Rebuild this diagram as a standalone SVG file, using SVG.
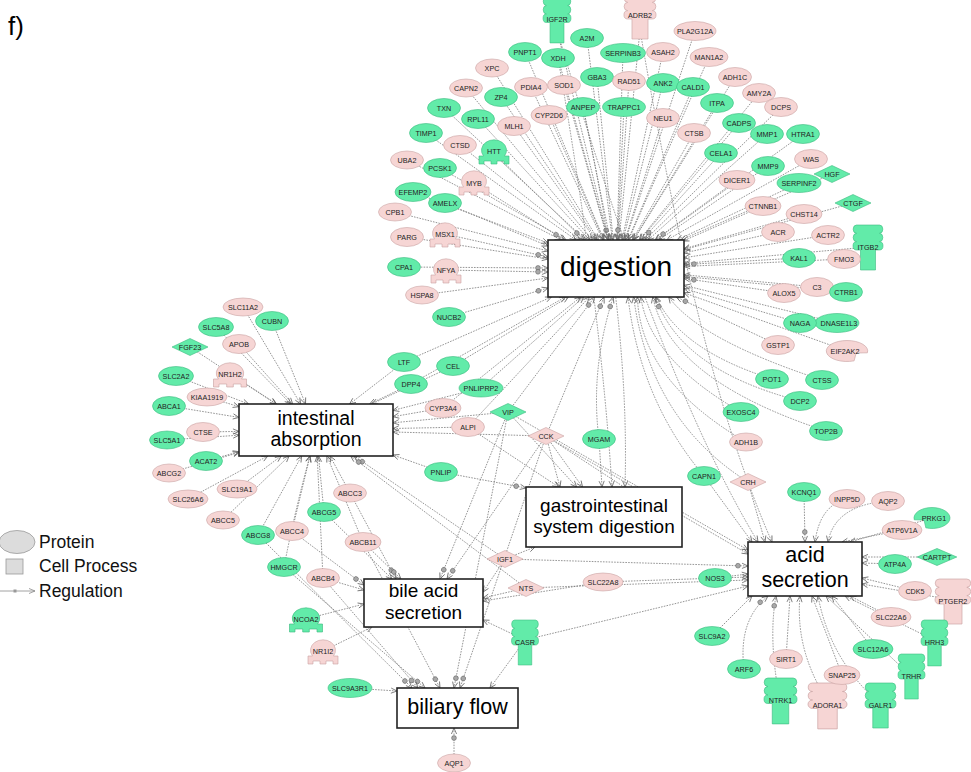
<svg xmlns="http://www.w3.org/2000/svg" xmlns:xlink="http://www.w3.org/1999/xlink" width="971" height="772" viewBox="0 0 971 772">
<style>
.e{fill:none;stroke:#7a7a7a;stroke-width:0.8;stroke-dasharray:1.6 1.2}
.a{marker-end:url(#ma)}
.c{marker-end:url(#mc)}
.g{fill:#62eba9;stroke:#3dbb80;stroke-width:0.6}
.p{fill:#f6d5d4;stroke:#c9a3a3;stroke-width:0.6}
.t{font-family:"Liberation Sans",Arial,sans-serif;font-size:7.2px;fill:#222;text-anchor:middle}
.box{fill:#fff;stroke:#222;stroke-width:1.6}
.bt{font-family:"Liberation Sans",Arial,sans-serif;fill:#000;text-anchor:middle}
.lg{font-family:"Liberation Sans",Arial,sans-serif;font-size:17.5px;fill:#111}
</style>
<defs>
<marker id="ma" markerUnits="userSpaceOnUse" markerWidth="14" markerHeight="8" refX="0" refY="0" orient="auto" overflow="visible">
<path d="M-6,-2.6 L0,0 L-6,2.6" fill="none" stroke="#666" stroke-width="0.8"/>
</marker>
<marker id="mc" markerUnits="userSpaceOnUse" markerWidth="14" markerHeight="8" refX="0" refY="0" orient="auto" overflow="visible">
<circle cx="-10" cy="0" r="2.4" fill="#a8a8a8" stroke="#555" stroke-width="0.5"/>
<path d="M-6,-2.6 L0,0 L-6,2.6" fill="none" stroke="#666" stroke-width="0.8"/>
</marker>
<path id="rec" d="M-11.5,0 H11.5 a3.5,4.17 0 0 1 0,8.33 a3.5,4.17 0 0 1 0,8.33 a3.5,4.17 0 0 1 0,8.34 H7.5 V45 H-7.5 V25 H-11.5 a3.5,4.17 0 0 1 0,-8.34 a3.5,4.17 0 0 1 0,-8.33 a3.5,4.17 0 0 1 0,-8.33 Z"/>
<path id="tr" d="M-15,13 V5 H-10.5 A12.5,10.5 0 1 1 10.5,5 H15 V13 H10 V10 H3 V13 H-3 V10 H-10 V13 Z"/>
<path id="dia" d="M-18,0 L0,-8.5 L18,0 L0,8.5 Z"/>
<path id="kin" d="M-17.73,1.82 A18,10.5 0 1 1 -6.16,9.87 L-8,2 Z"/>
</defs>
<rect x="0" y="0" width="971" height="772" fill="#fff"/>

<g id="connectors" class="e">
<!-- to digestion -->
<path class="c" d="M557,30 L608.5,240"/>
<path class="a" d="M640,30 L619,240"/>
<path class="a" d="M587,38 L612.4,240"/>
<path class="a" d="M525,52 L604,240"/>
<path class="a" d="M558,58 L608.1,240"/>
<path class="a" d="M492,68 L598.4,240"/>
<path class="a" d="M597,77 L613.2,240"/>
<path class="a" d="M466,88 L592.3,240"/>
<path class="a" d="M531,87 L602.7,240"/>
<path class="a" d="M564,85 L607.9,240"/>
<path class="a" d="M501,97 L596.9,240"/>
<path class="a" d="M583,107 L610.2,240"/>
<path class="a" d="M444,108 L585.5,240"/>
<path class="a" d="M478,119 L589.7,240"/>
<path class="a" d="M549,115 L603.6,240"/>
<path class="a" d="M514,126 L595.6,240"/>
<path class="a" d="M426,133 L576,240"/>
<path class="a" d="M460,145 L580,240"/>
<path class="c" d="M494,153 L584,240"/>
<path class="a" d="M407,160 L561.1,240"/>
<path class="a" d="M440,168 L566.1,240"/>
<path class="c" d="M474,183 L564.5,240"/>
<path class="a" d="M413,192 L548,243"/>
<path class="a" d="M445,203 L548,246"/>
<path class="a" d="M395,212 L548,251"/>
<path class="c" d="M445,234 L548,257"/>
<path class="a" d="M407,237 L548,259"/>
<path class="c" d="M404,267 L548,268"/>
<path class="c" d="M446,270 L548,272"/>
<path class="a" d="M422,295 L548,278"/>
<path class="c" d="M449,317 L548,288"/>
<path class="a" d="M623,53 L617,240"/>
<path class="a" d="M663,52 L622,240"/>
<path class="a" d="M695,31 L625.5,240"/>
<path class="a" d="M709,57 L628.5,240"/>
<path class="a" d="M629,81 L618,240"/>
<path class="a" d="M663,83 L623,240"/>
<path class="a" d="M693,87 L628,240"/>
<path class="a" d="M735,77 L633.7,240"/>
<path class="a" d="M759,93 L639.2,240"/>
<path class="c" d="M624,107 L617.4,240"/>
<path class="a" d="M717,103 L633.4,240"/>
<path class="a" d="M781,107 L645,240"/>
<path class="a" d="M663,118 L625,240"/>
<path class="a" d="M739,123 L640,240"/>
<path class="a" d="M694,133 L632.4,240"/>
<path class="a" d="M767,134 L648,240"/>
<path class="a" d="M803,134 L655.6,240"/>
<path class="c" d="M721,153 L642,240"/>
<path class="a" d="M811,159 L666.8,240"/>
<path class="a" d="M768,166 L658.7,240"/>
<path class="c" d="M737,180 L655,240"/>
<path class="a" d="M799,183 L677,240"/>
<path class="a" d="M832,174 L681,240"/>
<path class="a" d="M763,206 L683,241"/>
<path class="a" d="M804,214 L684,248.8"/>
<path class="a" d="M853,203 L684,249.7"/>
<path class="a" d="M778,232 L684,253"/>
<path class="a" d="M828,235 L684,257.8"/>
<path class="a" d="M868,247 L684,263.5"/>
<path class="c" d="M799,258 L684,264.6"/>
<path class="a" d="M844,259 L684,266.5"/>
<path class="c" d="M784,293 L684,278.4"/>
<path class="a" d="M817,287 L684,274.8"/>
<path class="a" d="M846,292 L684,276.5"/>
<path class="a" d="M800,323 L684,288.6"/>
<path class="a" d="M837,323 L684,285.3"/>
<path class="c" d="M778,345 L676.3,297"/>
<path class="a" d="M847,351 L684,292.8"/>
<path class="a" d="M772,379 Q680,350 656.2,297"/>
<path class="a" d="M822,380 Q700,340 668.7,297"/>
<path class="c" d="M800,401 Q680,370 655.6,297"/>
<path class="a" d="M741,412 Q650,360 640.8,297"/>
<path class="a" d="M826,431 Q670,380 652.8,297"/>
<path class="a" d="M746,442 Q640,380 637.4,297"/>
<path class="a" d="M404,362 L551.4,297"/>
<path class="a" d="M453,366 L568.4,297"/>
<path class="a" d="M411,384 L565.4,297"/>
<path class="a" d="M481,388 L583.8,297"/>
<path class="a" d="M443,408 L580.7,297"/>
<path class="c" d="M508,412 L594.6,297"/>
<path class="a" d="M468,427 L589.4,297"/>
<path class="c" d="M546,436 L604.1,297"/>
<path class="c" d="M599,439 Q590,370 613.2,297"/>
<path class="a" d="M704,476 Q640,400 628,297"/>
<path class="a" d="M748,482 Q650,420 633.6,297"/>
<!-- to intestinal absorption -->
<path class="a" d="M243,307 L300.6,404"/>
<path class="a" d="M272,321 L305.5,404"/>
<path class="a" d="M216,327 L290.8,404"/>
<path class="a" d="M239,344 L292.7,404"/>
<path class="a" d="M230,374 L276.1,404"/>
<path class="a" d="M190,347 L276.5,404"/>
<path class="a" d="M176,376 L248.6,404"/>
<path class="a" d="M207,397 L239,406.7"/>
<path class="a" d="M169,406 L239,417.4"/>
<path class="a" d="M203,432 L239,431.4"/>
<path class="a" d="M167,440 L239,435.2"/>
<path class="a" d="M206,461 L239,451.7"/>
<path class="a" d="M169,473 L239,452.5"/>
<path class="a" d="M237,489 L281.2,456"/>
<path class="a" d="M188,499 L267.8,456"/>
<path class="a" d="M223,520 L289.1,456"/>
<path class="a" d="M258,535 L301.6,456"/>
<path class="a" d="M292,531 L310,456"/>
<path class="a" d="M284,567 Q295,510 309.9,456"/>
<path class="a" d="M323,578 L317.2,456"/>
<path class="a" d="M324,512 L318.5,456"/>
<path class="a" d="M350,493 L330,456"/>
<path class="a" d="M363,542 L326.9,456"/>
<path class="a" d="M404,362 L349.6,404"/>
<path class="a" d="M453,366 L371.7,404"/>
<path class="a" d="M411,384 L369.7,404"/>
<path class="a" d="M481,388 L393,410.4"/>
<path class="a" d="M443,408 L393,416.7"/>
<path class="a" d="M508,412 L393,422.8"/>
<path class="a" d="M468,427 L393,428.5"/>
<path class="a" d="M546,436 L393,432"/>
<path class="a" d="M441,472 L393,455"/>
<path class="c" d="M505,559 L354,456"/>
<path class="c" d="M526,588 L350.6,456"/>
<!-- to GI system digestion -->
<path class="a" d="M546,436 L582.5,487"/>
<path class="a" d="M546,436 L560,487"/>
<path class="a" d="M508,412 L576.6,487"/>
<path class="a" d="M599,439 L602,487"/>
<path class="a" d="M468,427 L558.7,487"/>
<path class="c" d="M441,472 L526,488"/>
<path class="a" d="M505,559 L535,547"/>
<path class="a" d="M558,58 Q600,300 612,487"/>
<path class="a" d="M583,107 Q630,320 625,487"/>
<path class="e" d="M546,436 L624,487"/>
<!-- to acid secretion -->
<path class="c" d="M804,492 L805,542"/>
<path class="a" d="M847,499 Q820,505 815,542"/>
<path class="a" d="M888,501 Q835,505 828,542"/>
<path class="a" d="M902,530 L842,542"/>
<path class="a" d="M932,518 L850,542"/>
<path class="a" d="M937,557 L862,557"/>
<path class="a" d="M895,564 L862,563"/>
<path class="a" d="M915,591 L862,578"/>
<path class="a" d="M953,600 L862,584"/>
<path class="a" d="M891,617 L850,596"/>
<path class="a" d="M934,640 L845,596"/>
<path class="a" d="M873,649 L832,596"/>
<path class="a" d="M911,676 L826,596"/>
<path class="a" d="M880,704 Q830,660 818,596"/>
<path class="a" d="M842,675 L812,596"/>
<path class="a" d="M827,700 Q795,650 800,596"/>
<path class="a" d="M786,659 L790,596"/>
<path class="c" d="M780,700 Q768,640 776,596"/>
<path class="c" d="M744,669 Q738,620 768,596"/>
<path class="a" d="M712,636 L752,596"/>
<path class="a" d="M715,578 L748,574"/>
<path class="a" d="M603,582 L748,577"/>
<path class="a" d="M526,588 L748,580"/>
<path class="c" d="M505,559 L748,566"/>
<path class="a" d="M525,640 L748,586"/>
<path class="a" d="M546,436 L748,554"/>
<path class="a" d="M508,412 L748,550"/>
<path class="a" d="M704,476 L752,542"/>
<path class="a" d="M748,482 L765,542"/>
<path class="a" d="M640,30 Q700,380 772,542"/>
<path class="a" d="M557,30 Q660,380 758,542"/>
<!-- to bile acid secretion -->
<path class="c" d="M350,493 L396,579"/>
<path class="c" d="M363,542 L401,579"/>
<path class="a" d="M324,512 L392,579"/>
<path class="c" d="M292,531 L364,585"/>
<path class="a" d="M323,578 L364,590"/>
<path class="a" d="M306,619 L364,604"/>
<path class="a" d="M323,651 L372,627"/>
<path class="c" d="M508,412 L440,579"/>
<path class="c" d="M546,436 L447,579"/>
<path class="a" d="M505,559 L483,592"/>
<path class="a" d="M526,588 L483,598"/>
<path class="a" d="M603,582 L483,601"/>
<path class="a" d="M525,640 L483,620"/>
<!-- to biliary flow -->
<path class="a" d="M350,688 L397,691"/>
<path class="c" d="M454,763 L454,728"/>
<path class="a" d="M525,640 L490,688"/>
<path class="c" d="M284,567 L425,688"/>
<path class="c" d="M323,578 L418,688"/>
<path class="c" d="M258,535 L412,688"/>
<path class="c" d="M363,542 L440,688"/>
<path class="c" d="M508,412 L454,688"/>
<path class="c" d="M546,436 L460,688"/>
</g>

<!-- process boxes -->
<g id="digestion"><rect class="box" x="548" y="240" width="136" height="57"/><text class="bt" x="616" y="276" font-size="28">digestion</text></g>
<g id="intestinal_absorption"><rect class="box" x="239" y="404" width="154" height="52"/><text class="bt" x="316" y="425" font-size="19.5">intestinal</text><text class="bt" x="316" y="446" font-size="19.5">absorption</text></g>
<g id="gi_digestion"><rect class="box" x="526" y="487" width="156" height="60"/><text class="bt" x="604" y="512" font-size="19">gastrointestinal</text><text class="bt" x="604" y="533" font-size="19">system digestion</text></g>
<g id="acid_secretion"><rect class="box" x="748" y="542" width="114" height="54"/><text class="bt" x="805" y="562" font-size="21.5">acid</text><text class="bt" x="805" y="587" font-size="21.5">secretion</text></g>
<g id="bile_acid_secretion"><rect class="box" x="364" y="579" width="119" height="48"/><text class="bt" x="423.5" y="597" font-size="19">bile acid</text><text class="bt" x="423.5" y="619" font-size="19">secretion</text></g>
<g id="biliary_flow"><rect class="box" x="397" y="688" width="121" height="40"/><text class="bt" x="457.5" y="714" font-size="21.5">biliary flow</text></g>

<!-- receptors -->
<g id="n_IGF2R"><use xlink:href="#rec" class="g" transform="translate(557,-3) scale(0.93,1.02)"/><text class="t" x="557" y="21.5">IGF2R</text></g>
<g id="n_ADRB2"><use xlink:href="#rec" class="p" transform="translate(640,-6) scale(1.07,1)"/><text class="t" x="640" y="17.5">ADRB2</text></g>
<g id="n_ITGB2"><use xlink:href="#rec" class="g" transform="translate(868,225) scale(1,1)"/><text class="t" x="868" y="249.5">ITGB2</text></g>
<g id="n_CASR"><use xlink:href="#rec" class="g" transform="translate(525,620) scale(0.9,1)"/><text class="t" x="525" y="644.5">CASR</text></g>
<g id="n_PTGER2"><use xlink:href="#rec" class="p" transform="translate(953,579) scale(1.2,1)"/><text class="t" x="953" y="603.5">PTGER2</text></g>
<g id="n_HRH3"><use xlink:href="#rec" class="g" transform="translate(934.5,620) scale(0.9,1.02)"/><text class="t" x="934.5" y="644.5">HRH3</text></g>
<g id="n_TRHR"><use xlink:href="#rec" class="g" transform="translate(911.5,654) scale(0.9,1)"/><text class="t" x="911.5" y="678.5">TRHR</text></g>
<g id="n_NTRK1"><use xlink:href="#rec" class="g" transform="translate(780.5,678) scale(1.1,1.02)"/><text class="t" x="780.5" y="702.5">NTRK1</text></g>
<g id="n_ADORA1"><use xlink:href="#rec" class="p" transform="translate(827.5,683) scale(1.3,1.02)"/><text class="t" x="827.5" y="707.5">ADORA1</text></g>
<g id="n_GALR1"><use xlink:href="#rec" class="g" transform="translate(880.5,683) scale(1.03,1)"/><text class="t" x="880.5" y="707.5">GALR1</text></g>

<!-- transcription regulators -->
<g id="n_HTT"><use xlink:href="#tr" class="g" transform="translate(494,151)"/><text class="t" x="494" y="154">HTT</text></g>
<g id="n_MYB"><use xlink:href="#tr" class="p" transform="translate(474,182)"/><text class="t" x="474" y="185.5">MYB</text></g>
<g id="n_MSX1"><use xlink:href="#tr" class="p" transform="translate(445,234)"/><text class="t" x="445" y="237">MSX1</text></g>
<g id="n_NFYA"><use xlink:href="#tr" class="p" transform="translate(446,270)"/><text class="t" x="446" y="273">NFYA</text></g>
<g id="n_NR1H2"><use xlink:href="#tr" class="p" transform="translate(230,374) scale(1.1,1)"/><text class="t" x="230" y="377">NR1H2</text></g>
<g id="n_NCOA2"><use xlink:href="#tr" class="g" transform="translate(306,619) scale(1.1,1)"/><text class="t" x="306" y="622">NCOA2</text></g>
<g id="n_NR1I2"><use xlink:href="#tr" class="p" transform="translate(323,651)"/><text class="t" x="323" y="654">NR1I2</text></g>

<!-- diamonds -->
<g id="n_HGF"><use xlink:href="#dia" class="g" transform="translate(832,174)"/><text class="t" x="832" y="176.6">HGF</text></g>
<g id="n_CTGF"><use xlink:href="#dia" class="g" transform="translate(853,203)"/><text class="t" x="853" y="205.6">CTGF</text></g>
<g id="n_FGF23"><use xlink:href="#dia" class="g" transform="translate(190,347)"/><text class="t" x="190" y="349.6">FGF23</text></g>
<g id="n_VIP"><use xlink:href="#dia" class="g" transform="translate(508,412)"/><text class="t" x="508" y="414.6">VIP</text></g>
<g id="n_CCK"><use xlink:href="#dia" class="p" transform="translate(546,436)"/><text class="t" x="546" y="438.6">CCK</text></g>
<g id="n_IGF1"><use xlink:href="#dia" class="p" transform="translate(505,559)"/><text class="t" x="505" y="561.6">IGF1</text></g>
<g id="n_NTS"><use xlink:href="#dia" class="p" transform="translate(526,588)"/><text class="t" x="526" y="590.6">NTS</text></g>
<g id="n_CRH"><use xlink:href="#dia" class="p" transform="translate(748,482)"/><text class="t" x="748" y="484.6">CRH</text></g>
<g id="n_CARTPT"><use xlink:href="#dia" class="g" transform="translate(937,557) scale(1.1,1)"/><text class="t" x="937" y="559.6">CARTPT</text></g>

<!-- kinases -->
<g id="n_PRKG1"><use xlink:href="#kin" class="g" transform="translate(932,518)"/><text class="t" x="934" y="521">PRKG1</text></g>
<g id="n_EIF2AK2"><use xlink:href="#kin" class="p" transform="translate(847,351) scale(-1.15,1)"/><text class="t" x="845" y="354">EIF2AK2</text></g>

<!-- proteins -->
<g id="n_A2M"><ellipse class="g" cx="587" cy="38" rx="16.5" ry="9.5"/><text class="t" x="587" y="40.6">A2M</text></g>
<g id="n_PNPT1"><ellipse class="g" cx="525" cy="52" rx="16.5" ry="9.5"/><text class="t" x="525" y="54.6">PNPT1</text></g>
<g id="n_XDH"><ellipse class="g" cx="558" cy="58" rx="16.5" ry="9.5"/><text class="t" x="558" y="60.6">XDH</text></g>
<g id="n_PLA2G12A"><ellipse class="p" cx="695" cy="31" rx="21" ry="9.5"/><text class="t" x="695" y="33.6">PLA2G12A</text></g>
<g id="n_SERPINB3"><ellipse class="g" cx="623" cy="53" rx="22.5" ry="9.5"/><text class="t" x="623" y="55.6">SERPINB3</text></g>
<g id="n_ASAH2"><ellipse class="p" cx="663" cy="52" rx="16.5" ry="9.5"/><text class="t" x="663" y="54.6">ASAH2</text></g>
<g id="n_MAN1A2"><ellipse class="p" cx="709" cy="57" rx="19" ry="9.5"/><text class="t" x="709" y="59.6">MAN1A2</text></g>
<g id="n_XPC"><ellipse class="p" cx="492" cy="68" rx="16.5" ry="9"/><text class="t" x="492" y="70.6">XPC</text></g>
<g id="n_GBA3"><ellipse class="g" cx="597" cy="77" rx="16.5" ry="9.5"/><text class="t" x="597" y="79.6">GBA3</text></g>
<g id="n_ADH1C"><ellipse class="p" cx="735" cy="77" rx="16.5" ry="9.5"/><text class="t" x="735" y="79.6">ADH1C</text></g>
<g id="n_RAD51"><ellipse class="p" cx="629" cy="81" rx="16.5" ry="9.5"/><text class="t" x="629" y="83.6">RAD51</text></g>
<g id="n_ANK2"><ellipse class="g" cx="663" cy="83" rx="16.5" ry="9.5"/><text class="t" x="663" y="85.6">ANK2</text></g>
<g id="n_CALD1"><ellipse class="g" cx="693" cy="87" rx="16.5" ry="9.5"/><text class="t" x="693" y="89.6">CALD1</text></g>
<g id="n_CAPN2"><ellipse class="p" cx="466" cy="88" rx="16.5" ry="9"/><text class="t" x="466" y="90.6">CAPN2</text></g>
<g id="n_PDIA4"><ellipse class="p" cx="531" cy="87" rx="16.5" ry="9.5"/><text class="t" x="531" y="89.6">PDIA4</text></g>
<g id="n_SOD1"><ellipse class="p" cx="564" cy="85" rx="16.5" ry="9.5"/><text class="t" x="564" y="87.6">SOD1</text></g>
<g id="n_AMY2A"><ellipse class="p" cx="759" cy="93" rx="16.5" ry="9.5"/><text class="t" x="759" y="95.6">AMY2A</text></g>
<g id="n_ZP4"><ellipse class="g" cx="501" cy="97" rx="16.5" ry="9.5"/><text class="t" x="501" y="99.6">ZP4</text></g>
<g id="n_ITPA"><ellipse class="g" cx="717" cy="103" rx="16.5" ry="9.5"/><text class="t" x="717" y="105.6">ITPA</text></g>
<g id="n_TRAPPC1"><ellipse class="g" cx="624" cy="107" rx="21.5" ry="9.5"/><text class="t" x="624" y="109.6">TRAPPC1</text></g>
<g id="n_ANPEP"><ellipse class="g" cx="583" cy="107" rx="16.5" ry="9.5"/><text class="t" x="583" y="109.6">ANPEP</text></g>
<g id="n_DCPS"><ellipse class="p" cx="781" cy="107" rx="16.5" ry="9.5"/><text class="t" x="781" y="109.6">DCPS</text></g>
<g id="n_TXN"><ellipse class="g" cx="444" cy="108" rx="16.5" ry="9.5"/><text class="t" x="444" y="110.6">TXN</text></g>
<g id="n_CYP2D6"><ellipse class="p" cx="549" cy="115" rx="18" ry="9.5"/><text class="t" x="549" y="117.6">CYP2D6</text></g>
<g id="n_NEU1"><ellipse class="p" cx="663" cy="118" rx="16.5" ry="9.5"/><text class="t" x="663" y="120.6">NEU1</text></g>
<g id="n_RPL11"><ellipse class="g" cx="478" cy="119" rx="16.5" ry="9.5"/><text class="t" x="478" y="121.6">RPL11</text></g>
<g id="n_CADPS"><ellipse class="g" cx="739" cy="123" rx="16.5" ry="9.5"/><text class="t" x="739" y="125.6">CADPS</text></g>
<g id="n_MLH1"><ellipse class="p" cx="514" cy="126" rx="16.5" ry="9.5"/><text class="t" x="514" y="128.6">MLH1</text></g>
<g id="n_TIMP1"><ellipse class="g" cx="426" cy="133" rx="16.5" ry="9.5"/><text class="t" x="426" y="135.6">TIMP1</text></g>
<g id="n_CTSB"><ellipse class="p" cx="694" cy="133" rx="16.5" ry="9.5"/><text class="t" x="694" y="135.6">CTSB</text></g>
<g id="n_MMP1"><ellipse class="g" cx="767" cy="134" rx="16.5" ry="9.5"/><text class="t" x="767" y="136.6">MMP1</text></g>
<g id="n_HTRA1"><ellipse class="g" cx="803" cy="134" rx="16.5" ry="9.5"/><text class="t" x="803" y="136.6">HTRA1</text></g>
<g id="n_CTSD"><ellipse class="p" cx="460" cy="145" rx="16.5" ry="9.5"/><text class="t" x="460" y="147.6">CTSD</text></g>
<g id="n_CELA1"><ellipse class="g" cx="721" cy="153" rx="16.5" ry="9.5"/><text class="t" x="721" y="155.6">CELA1</text></g>
<g id="n_WAS"><ellipse class="p" cx="811" cy="159" rx="16.5" ry="9.5"/><text class="t" x="811" y="161.6">WAS</text></g>
<g id="n_UBA2"><ellipse class="p" cx="407" cy="160" rx="16.5" ry="9"/><text class="t" x="407" y="162.6">UBA2</text></g>
<g id="n_MMP9"><ellipse class="g" cx="768" cy="166" rx="16.5" ry="9.5"/><text class="t" x="768" y="168.6">MMP9</text></g>
<g id="n_PCSK1"><ellipse class="g" cx="440" cy="168" rx="16.5" ry="9.5"/><text class="t" x="440" y="170.6">PCSK1</text></g>
<g id="n_DICER1"><ellipse class="p" cx="737" cy="180" rx="18" ry="9.5"/><text class="t" x="737" y="182.6">DICER1</text></g>
<g id="n_SERPINF2"><ellipse class="g" cx="799" cy="183" rx="22" ry="9.5"/><text class="t" x="799" y="185.6">SERPINF2</text></g>
<g id="n_EFEMP2"><ellipse class="g" cx="413" cy="192" rx="18" ry="9.5"/><text class="t" x="413" y="194.6">EFEMP2</text></g>
<g id="n_AMELX"><ellipse class="g" cx="445" cy="203" rx="16.5" ry="9.5"/><text class="t" x="445" y="205.6">AMELX</text></g>
<g id="n_CTNNB1"><ellipse class="p" cx="763" cy="206" rx="18" ry="9.5"/><text class="t" x="763" y="208.6">CTNNB1</text></g>
<g id="n_CPB1"><ellipse class="p" cx="395" cy="212" rx="16.5" ry="9"/><text class="t" x="395" y="214.6">CPB1</text></g>
<g id="n_CHST14"><ellipse class="p" cx="804" cy="214" rx="18" ry="9.5"/><text class="t" x="804" y="216.6">CHST14</text></g>
<g id="n_ACR"><ellipse class="p" cx="778" cy="232" rx="16.5" ry="9.5"/><text class="t" x="778" y="234.6">ACR</text></g>
<g id="n_ACTR2"><ellipse class="p" cx="828" cy="235" rx="16.5" ry="9.5"/><text class="t" x="828" y="237.6">ACTR2</text></g>
<g id="n_PARG"><ellipse class="p" cx="407" cy="237" rx="16.5" ry="9.5"/><text class="t" x="407" y="239.6">PARG</text></g>
<g id="n_KAL1"><ellipse class="g" cx="799" cy="258" rx="16.5" ry="9.5"/><text class="t" x="799" y="260.6">KAL1</text></g>
<g id="n_FMO3"><ellipse class="p" cx="844" cy="259" rx="16.5" ry="9.5"/><text class="t" x="844" y="261.6">FMO3</text></g>
<g id="n_CPA1"><ellipse class="g" cx="404" cy="267" rx="16.5" ry="9.5"/><text class="t" x="404" y="269.6">CPA1</text></g>
<g id="n_ALOX5"><ellipse class="p" cx="784" cy="293" rx="16.5" ry="9.5"/><text class="t" x="784" y="295.6">ALOX5</text></g>
<g id="n_C3"><ellipse class="p" cx="817" cy="287" rx="16.5" ry="9.5"/><text class="t" x="817" y="289.6">C3</text></g>
<g id="n_CTRB1"><ellipse class="g" cx="846" cy="292" rx="16.5" ry="9.5"/><text class="t" x="846" y="294.6">CTRB1</text></g>
<g id="n_HSPA8"><ellipse class="p" cx="422" cy="295" rx="16.5" ry="9"/><text class="t" x="422" y="297.6">HSPA8</text></g>
<g id="n_NUCB2"><ellipse class="g" cx="449" cy="317" rx="16.5" ry="9.5"/><text class="t" x="449" y="319.6">NUCB2</text></g>
<g id="n_DNASE1L3"><ellipse class="g" cx="837" cy="323" rx="22" ry="9.5"/><text class="t" x="839" y="325.6">DNASE1L3</text></g>
<g id="n_NAGA"><ellipse class="g" cx="800" cy="323" rx="16.5" ry="9.5"/><text class="t" x="800" y="325.6">NAGA</text></g>
<g id="n_GSTP1"><ellipse class="p" cx="778" cy="345" rx="16.5" ry="9.5"/><text class="t" x="778" y="347.6">GSTP1</text></g>
<g id="n_POT1"><ellipse class="g" cx="772" cy="379" rx="16.5" ry="9.5"/><text class="t" x="772" y="381.6">POT1</text></g>
<g id="n_CTSS"><ellipse class="g" cx="822" cy="380" rx="16.5" ry="9.5"/><text class="t" x="822" y="382.6">CTSS</text></g>
<g id="n_DCP2"><ellipse class="g" cx="800" cy="401" rx="16.5" ry="9.5"/><text class="t" x="800" y="403.6">DCP2</text></g>
<g id="n_EXOSC4"><ellipse class="g" cx="741" cy="412" rx="18" ry="9.5"/><text class="t" x="741" y="414.6">EXOSC4</text></g>
<g id="n_TOP2B"><ellipse class="g" cx="826" cy="431" rx="16.5" ry="9.5"/><text class="t" x="826" y="433.6">TOP2B</text></g>
<g id="n_ADH1B"><ellipse class="p" cx="746" cy="442" rx="16.5" ry="9"/><text class="t" x="746" y="444.6">ADH1B</text></g>

<g id="n_SLC11A2"><ellipse class="p" cx="243" cy="307" rx="20" ry="9"/><text class="t" x="243" y="309.6">SLC11A2</text></g>
<g id="n_CUBN"><ellipse class="g" cx="272" cy="321" rx="16.5" ry="9.5"/><text class="t" x="272" y="323.6">CUBN</text></g>
<g id="n_SLC5A8"><ellipse class="g" cx="216" cy="327" rx="17.5" ry="9.5"/><text class="t" x="216" y="329.6">SLC5A8</text></g>
<g id="n_APOB"><ellipse class="p" cx="239" cy="344" rx="16.5" ry="9.5"/><text class="t" x="239" y="346.6">APOB</text></g>
<g id="n_SLC2A2"><ellipse class="g" cx="176" cy="376" rx="17.5" ry="9.5"/><text class="t" x="176" y="378.6">SLC2A2</text></g>
<g id="n_KIAA1919"><ellipse class="p" cx="207" cy="397" rx="20" ry="9"/><text class="t" x="207" y="399.6">KIAA1919</text></g>
<g id="n_ABCA1"><ellipse class="g" cx="169" cy="406" rx="16.5" ry="9.5"/><text class="t" x="169" y="408.6">ABCA1</text></g>
<g id="n_CTSE"><ellipse class="p" cx="203" cy="432" rx="16.5" ry="9.5"/><text class="t" x="203" y="434.6">CTSE</text></g>
<g id="n_SLC5A1"><ellipse class="g" cx="167" cy="440" rx="17.5" ry="9"/><text class="t" x="167" y="442.6">SLC5A1</text></g>
<g id="n_ACAT2"><ellipse class="g" cx="206" cy="461" rx="16.5" ry="9.5"/><text class="t" x="206" y="463.6">ACAT2</text></g>
<g id="n_ABCG2"><ellipse class="p" cx="169" cy="473" rx="16.5" ry="9"/><text class="t" x="169" y="475.6">ABCG2</text></g>
<g id="n_SLC19A1"><ellipse class="p" cx="237" cy="489" rx="20" ry="9"/><text class="t" x="237" y="491.6">SLC19A1</text></g>
<g id="n_SLC26A6"><ellipse class="p" cx="188" cy="499" rx="20" ry="9"/><text class="t" x="188" y="501.6">SLC26A6</text></g>
<g id="n_ABCC5"><ellipse class="p" cx="223" cy="520" rx="16.5" ry="9"/><text class="t" x="223" y="522.6">ABCC5</text></g>
<g id="n_ABCC3"><ellipse class="p" cx="350" cy="493" rx="16.5" ry="9"/><text class="t" x="350" y="495.6">ABCC3</text></g>
<g id="n_ABCG5"><ellipse class="g" cx="324" cy="512" rx="16.5" ry="9.5"/><text class="t" x="324" y="514.6">ABCG5</text></g>
<g id="n_ABCG8"><ellipse class="g" cx="258" cy="535" rx="16.5" ry="9.5"/><text class="t" x="258" y="537.6">ABCG8</text></g>
<g id="n_ABCC4"><ellipse class="p" cx="292" cy="531" rx="16.5" ry="9.5"/><text class="t" x="292" y="533.6">ABCC4</text></g>
<g id="n_ABCB11"><ellipse class="p" cx="363" cy="542" rx="18" ry="9.5"/><text class="t" x="363" y="544.6">ABCB11</text></g>
<g id="n_HMGCR"><ellipse class="g" cx="284" cy="567" rx="16.5" ry="9.5"/><text class="t" x="284" y="569.6">HMGCR</text></g>
<g id="n_ABCB4"><ellipse class="p" cx="323" cy="578" rx="16.5" ry="9.5"/><text class="t" x="323" y="580.6">ABCB4</text></g>
<g id="n_SLC9A3R1"><ellipse class="g" cx="350" cy="688" rx="22" ry="9.5"/><text class="t" x="350" y="690.6">SLC9A3R1</text></g>
<g id="n_AQP1"><ellipse class="p" cx="454" cy="763" rx="16.5" ry="9"/><text class="t" x="454" y="765.6">AQP1</text></g>

<g id="n_LTF"><ellipse class="g" cx="404" cy="362" rx="16.5" ry="9.5"/><text class="t" x="404" y="364.6">LTF</text></g>
<g id="n_CEL"><ellipse class="g" cx="453" cy="366" rx="16.5" ry="9.5"/><text class="t" x="453" y="368.6">CEL</text></g>
<g id="n_DPP4"><ellipse class="g" cx="411" cy="384" rx="16.5" ry="9.5"/><text class="t" x="411" y="386.6">DPP4</text></g>
<g id="n_PNLIPRP2"><ellipse class="g" cx="481" cy="388" rx="22" ry="9"/><text class="t" x="481" y="390.6">PNLIPRP2</text></g>
<g id="n_CYP3A4"><ellipse class="p" cx="443" cy="408" rx="18" ry="9.5"/><text class="t" x="443" y="410.6">CYP3A4</text></g>
<g id="n_ALPI"><ellipse class="p" cx="468" cy="427" rx="16.5" ry="9.5"/><text class="t" x="468" y="429.6">ALPI</text></g>
<g id="n_MGAM"><ellipse class="g" cx="599" cy="439" rx="16.5" ry="9.5"/><text class="t" x="599" y="441.6">MGAM</text></g>
<g id="n_PNLIP"><ellipse class="g" cx="441" cy="472" rx="16.5" ry="9.5"/><text class="t" x="441" y="474.6">PNLIP</text></g>
<g id="n_CAPN1"><ellipse class="g" cx="704" cy="476" rx="16.5" ry="9.5"/><text class="t" x="704" y="478.6">CAPN1</text></g>
<g id="n_SLC22A8"><ellipse class="p" cx="603" cy="582" rx="20" ry="9"/><text class="t" x="603" y="584.6">SLC22A8</text></g>
<g id="n_NOS3"><ellipse class="g" cx="715" cy="578" rx="16.5" ry="9.5"/><text class="t" x="715" y="580.6">NOS3</text></g>
<g id="n_SLC9A2"><ellipse class="g" cx="712" cy="636" rx="17.5" ry="9.5"/><text class="t" x="712" y="638.6">SLC9A2</text></g>
<g id="n_KCNQ1"><ellipse class="g" cx="804" cy="492" rx="16.5" ry="9.5"/><text class="t" x="804" y="494.6">KCNQ1</text></g>
<g id="n_INPP5D"><ellipse class="p" cx="847" cy="499" rx="18" ry="9.5"/><text class="t" x="847" y="501.6">INPP5D</text></g>
<g id="n_AQP2"><ellipse class="p" cx="888" cy="501" rx="16.5" ry="9.5"/><text class="t" x="888" y="503.6">AQP2</text></g>
<g id="n_ATP6V1A"><ellipse class="p" cx="902" cy="530" rx="20" ry="9.5"/><text class="t" x="902" y="532.6">ATP6V1A</text></g>
<g id="n_ATP4A"><ellipse class="g" cx="895" cy="564" rx="16.5" ry="9.5"/><text class="t" x="895" y="566.6">ATP4A</text></g>
<g id="n_CDK5"><ellipse class="p" cx="915" cy="591" rx="16.5" ry="9.5"/><text class="t" x="915" y="593.6">CDK5</text></g>
<g id="n_SLC22A6"><ellipse class="p" cx="891" cy="617" rx="20" ry="9.5"/><text class="t" x="891" y="619.6">SLC22A6</text></g>
<g id="n_SLC12A6"><ellipse class="g" cx="873" cy="649" rx="20" ry="9.5"/><text class="t" x="873" y="651.6">SLC12A6</text></g>
<g id="n_SIRT1"><ellipse class="p" cx="786" cy="659" rx="16.5" ry="9.5"/><text class="t" x="786" y="661.6">SIRT1</text></g>
<g id="n_ARF6"><ellipse class="g" cx="744" cy="669" rx="16.5" ry="9.5"/><text class="t" x="744" y="671.6">ARF6</text></g>
<g id="n_SNAP25"><ellipse class="p" cx="842" cy="675" rx="18" ry="9.5"/><text class="t" x="842" y="677.6">SNAP25</text></g>

<!-- legend -->
<g id="legend">
<ellipse cx="17" cy="542" rx="18" ry="11.5" fill="#dcdcdc" stroke="#9a9a9a" stroke-width="0.8"/>
<text class="lg" x="39" y="548">Protein</text>
<rect x="6" y="559" width="17" height="15" fill="#dcdcdc" stroke="#9a9a9a" stroke-width="0.8"/>
<text class="lg" x="39" y="572">Cell Process</text>
<path d="M0,591 H35" stroke="#8a8a8a" stroke-width="0.8" fill="none"/>
<rect x="13.5" y="589.5" width="3" height="3" fill="#999"/>
<path d="M29,588.5 L35,591 L29,593.5" stroke="#8a8a8a" stroke-width="0.8" fill="none"/>
<text class="lg" x="39" y="597">Regulation</text>
</g>
<text x="8" y="35" font-family="Liberation Sans, Arial, sans-serif" font-size="26" fill="#000">f)</text>
</svg>
